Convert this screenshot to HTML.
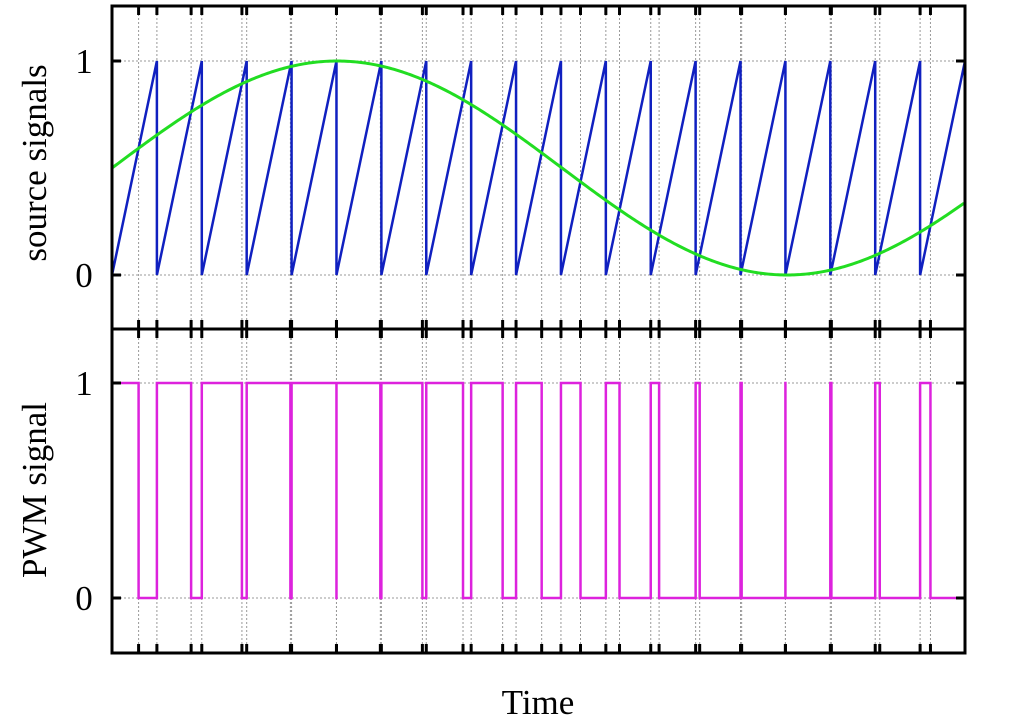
<!DOCTYPE html>
<html><head><style>
body{margin:0;background:#fff;width:1024px;height:717px;overflow:hidden}
svg{display:block}
text{font-family:"Liberation Serif","DejaVu Serif",serif;fill:#000}
</style></head><body>
<svg id="s" width="1024" height="717" xmlns="http://www.w3.org/2000/svg">
<g id="grid"></g>
<g id="data"></g>
<g id="frame"></g>
<text x="84" y="73" font-size="35" text-anchor="middle">1</text>
<text x="84" y="287" font-size="35" text-anchor="middle">0</text>
<text x="84" y="395" font-size="35" text-anchor="middle">1</text>
<text x="84" y="610" font-size="35" text-anchor="middle">0</text>
<text transform="translate(46,163) rotate(-90)" font-size="35" text-anchor="middle">source signals</text>
<text transform="translate(46,490) rotate(-90)" font-size="35" text-anchor="middle">PWM signal</text>
<text x="538" y="714" font-size="35" text-anchor="middle">Time</text>
</svg>
<script>
const L=112,R=965,T=6,M=329,B=653;
const y1a=61,y0a=275,y1b=383,y0b=598;
const N=19,P=(R-L)/N,SP=900;
const sine=x=>0.5+0.5*Math.sin(2*Math.PI*(x-L)/SP);
let g='',d='',f='';
const xs=[];
let cross=[];
for(let k=0;k<N;k++){
  const x0=L+k*P;
  let lo=0,hi=1;
  for(let i=0;i<40;i++){const m=(lo+hi)/2; if(m<sine(x0+m*P))lo=m;else hi=m;}
  cross.push(x0+lo*P);
  xs.push(x0+lo*P);
  if(k>0)xs.push(x0);
}
xs.forEach(x=>{g+=`<line x1="${x}" y1="${T}" x2="${x}" y2="${B}" stroke="#999" stroke-width="1" stroke-dasharray="2,2"/>`;});
[y1a,y0a,y1b,y0b].forEach(y=>{g+=`<line x1="${L}" y1="${y}" x2="${R}" y2="${y}" stroke="#999" stroke-width="1" stroke-dasharray="2,2"/>`;});
let p=`M${L},${y0a}`;
for(let k=0;k<N;k++){const x1=L+(k+1)*P;p+=` L${x1},${y1a}`; if(k<N-1)p+=` L${x1},${y0a}`;}
d+=`<path d="${p}" fill="none" stroke="#1020c0" stroke-width="2.5"/>`;
let q='';for(let x=L;x<=R;x+=2){q+=(x==L?'M':'L')+x+','+(y0a-(y0a-y1a)*sine(x))+' ';}
d+=`<path d="${q}" fill="none" stroke="#22dd22" stroke-width="3"/>`;
let w=`M${L},${y1b}`;
for(let k=0;k<N;k++){const c=cross[k],x1=L+(k+1)*P;w+=` L${c},${y1b} L${c},${y0b} L${x1},${y0b}`; if(k<N-1)w+=` L${x1},${y1b}`;}
d+=`<path d="${w}" fill="none" stroke="#dd22dd" stroke-width="2.5"/>`;
f+=`<rect x="${L}" y="${T}" width="${R-L}" height="${B-T}" fill="none" stroke="#000" stroke-width="3"/>`;
f+=`<line x1="${L}" y1="${M}" x2="${R}" y2="${M}" stroke="#000" stroke-width="3"/>`;
xs.forEach(x=>{
 f+=`<line x1="${x}" y1="${T}" x2="${x}" y2="${T+9}" stroke="#000" stroke-width="3"/>`;
 f+=`<line x1="${x}" y1="${B}" x2="${x}" y2="${B-9}" stroke="#000" stroke-width="3"/>`;
 f+=`<line x1="${x}" y1="${M-9}" x2="${x}" y2="${M+9}" stroke="#000" stroke-width="3"/>`;
});
[y1a,y0a,y1b,y0b].forEach(y=>{
 f+=`<line x1="${L}" y1="${y}" x2="${L+9}" y2="${y}" stroke="#000" stroke-width="3"/>`;
 f+=`<line x1="${R}" y1="${y}" x2="${R-9}" y2="${y}" stroke="#000" stroke-width="3"/>`;
});
document.getElementById('grid').innerHTML=g;
document.getElementById('data').innerHTML=d;
document.getElementById('frame').innerHTML=f;
</script>
</body></html>
